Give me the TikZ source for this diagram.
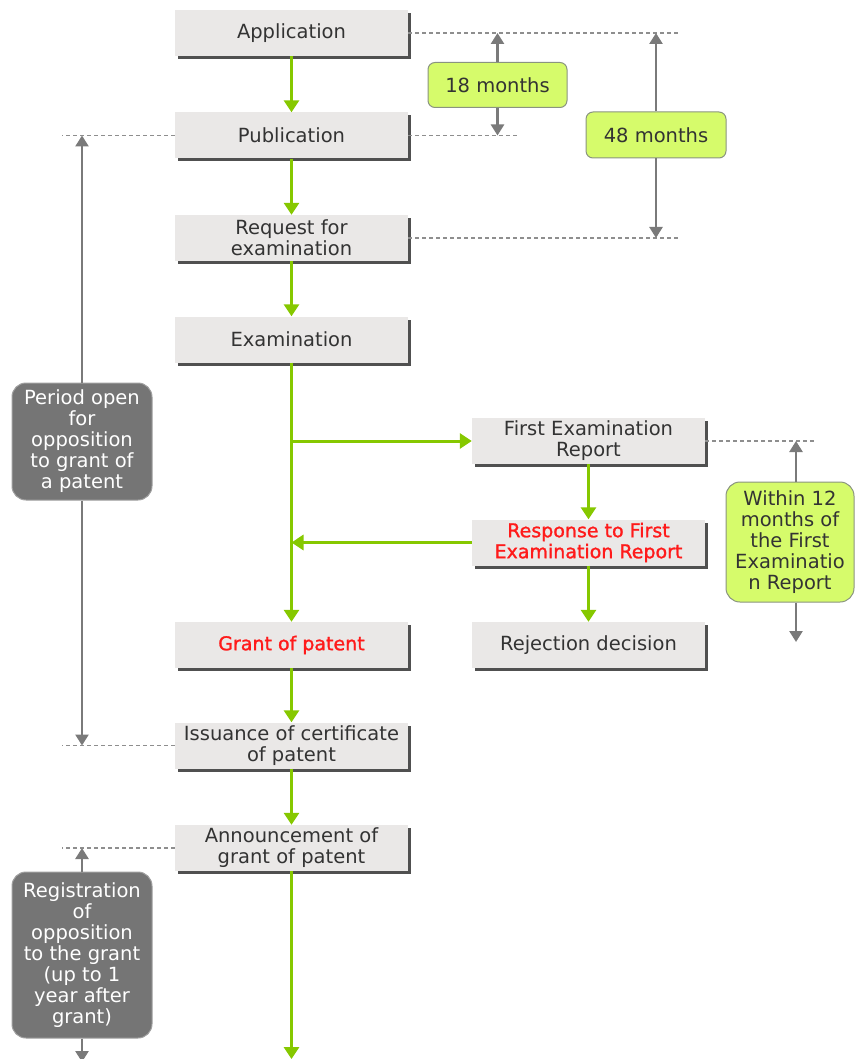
\documentclass[tikz,border=0pt]{standalone}
\usepackage{fontspec}
\setmainfont{DejaVu Sans}
\newfontfamily\heavyred[FakeBold=1.3]{DejaVu Sans}
\usetikzlibrary{arrows.meta,shadows}
\definecolor{boxfill}{HTML}{EAE8E7}
\definecolor{boxshadow}{HTML}{505050}
\definecolor{boxtext}{HTML}{333333}
\definecolor{flowgreen}{HTML}{86C800}
\definecolor{limefill}{HTML}{D6FB6B}
\definecolor{limeborder}{HTML}{8A9480}
\definecolor{darkfill}{HTML}{757575}
\definecolor{darkborder}{HTML}{A0A0A0}
\definecolor{dimgray}{HTML}{7A7A7A}
\definecolor{dashgray}{HTML}{8E8E8E}
\definecolor{redtext}{HTML}{FF1A1A}
\tikzset{
  stepbox/.style={rectangle, fill=boxfill, minimum width=233pt, minimum height=46pt,
    inner sep=0pt, align=center, text=boxtext, font=\fontsize{19.5}{21}\selectfont,
    drop shadow={shadow xshift=3pt, shadow yshift=-3pt, fill=boxshadow, opacity=1}},
  redbox/.style={stepbox, text=redtext, font=\heavyred\fontsize{19}{21}\selectfont},
  flow/.style={draw=flowgreen, line width=3pt, -{Triangle[width=15pt,length=12pt]}},
  dim/.style={draw=dimgray, line width=2.5pt, -{Triangle[width=13pt,length=11pt]}},
  guide/.style={draw=dashgray, line width=1.2pt, dash pattern=on 4pt off 3pt},
  limebox/.style={rectangle, rounded corners=7pt, fill=limefill, draw=limeborder, line width=1pt,
    inner sep=0pt, align=center, text=boxtext, font=\fontsize{19.5}{21}\selectfont},
  darkbox/.style={rectangle, rounded corners=14pt, fill=darkfill, draw=darkborder, line width=1pt,
    inner sep=0pt, align=center, text=white, font=\fontsize{19.5}{21}\selectfont,
    minimum width=140pt},
}
\begin{document}
\begin{tikzpicture}[x=1pt,y=-1pt]
\useasboundingbox (0,0) rectangle (855,1059);

% main flow boxes
\node[stepbox] (app) at (291.5,33) {Application};
\node[stepbox] (pub) at (291.5,135.5) {Publication};
\node[stepbox] (req) at (291.5,238) {Request for\\examination};
\node[stepbox] (exam) at (291.5,339.5) {Examination};
\node[stepbox] (fer) at (588.5,441) {First Examination\\Report};
\node[redbox] (resp) at (588.5,542.5) {Response to First\\Examination Report};
\node[stepbox] (rej) at (588.5,645) {Rejection decision};
\node[redbox] (grant) at (291.5,645) {Grant of patent};
\node[stepbox] (iss) at (291.5,745.5) {Issuance of certificate\\of patent};
\node[stepbox] (ann) at (291.5,848) {Announcement of\\grant of patent};

% flow coordinates
\coordinate (split) at (291.5,441);
\coordinate (merge) at (291.5,542.5);
\coordinate (bottom) at (291.5,1059);

% green flow arrows
\draw[flow] (app.south) -- (pub.north);
\draw[flow] (pub.south) -- (req.north);
\draw[flow] (req.south) -- (exam.north);
\draw[flow] (exam.south) -- (grant.north);
\draw[flow] (split) -- (fer.west);
\draw[flow] (resp.west) -- (merge);
\draw[flow] (fer.south) -- (resp.north);
\draw[flow] (resp.south) -- (rej.north);
\draw[flow] (grant.south) -- (iss.north);
\draw[flow] (iss.south) -- (ann.north);
\draw[flow] (ann.south) -- (bottom);

% dashed guide lines
\coordinate (g1) at (678,33);
\coordinate (g2) at (518,135.5);
\coordinate (g3) at (678,238);
\coordinate (g4) at (62,135.5);
\coordinate (g5) at (815,441);
\coordinate (g6) at (62,745.5);
\coordinate (g7) at (62,848);
\draw[guide] (app.east) -- (g1);
\draw[guide] (pub.east) -- (g2);
\draw[guide] (req.east) -- (g3);
\draw[guide] (pub.west) -- (g4);
\draw[guide] (fer.east) -- (g5);
\draw[guide] (iss.west) -- (g6);
\draw[guide] (ann.west) -- (g7);

% lime labels
\node[limebox, minimum width=139pt, minimum height=45pt] (m18) at (497.5,85) {18 months};
\node[limebox, minimum width=140pt, minimum height=46pt] (m48) at (656,135) {48 months};
\node[limebox, rounded corners=14pt, minimum width=128pt, minimum height=120pt] (m12) at (790,542) {Within 12\\months of\\the First\\Examinatio\\n Report};

% dark labels
\node[darkbox, minimum height=117pt] (opp) at (82,441.5) {Period open\\for\\opposition\\to grant of\\a patent};
\node[darkbox, minimum height=166pt] (reg) at (82,955) {Registration\\of\\opposition\\to the grant\\(up to 1\\year after\\grant)};

% dimension arrows
\coordinate (d18t) at (497.5,33);
\coordinate (d18b) at (497.5,135.5);
\coordinate (d48t) at (656,33);
\coordinate (d48b) at (656,238);
\coordinate (d12t) at (796,441);
\coordinate (d12b) at (796,642);
\coordinate (dot) at (82,135.5);
\coordinate (dob) at (82,745.5);
\coordinate (drt) at (82,848);
\coordinate (drb) at (82,1062);
\draw[dim] (m18.north) -- (d18t);
\draw[dim] (m18.south) -- (d18b);
\draw[dim] (m48.north) -- (d48t);
\draw[dim] (m48.south) -- (d48b);
\draw[dim] (m12.north -| d12t) -- (d12t);
\draw[dim] (m12.south -| d12b) -- (d12b);
\draw[dim] (opp.north) -- (dot);
\draw[dim] (opp.south) -- (dob);
\draw[dim] (reg.north) -- (drt);
\draw[dim] (reg.south) -- (drb);
\end{tikzpicture}
\end{document}
